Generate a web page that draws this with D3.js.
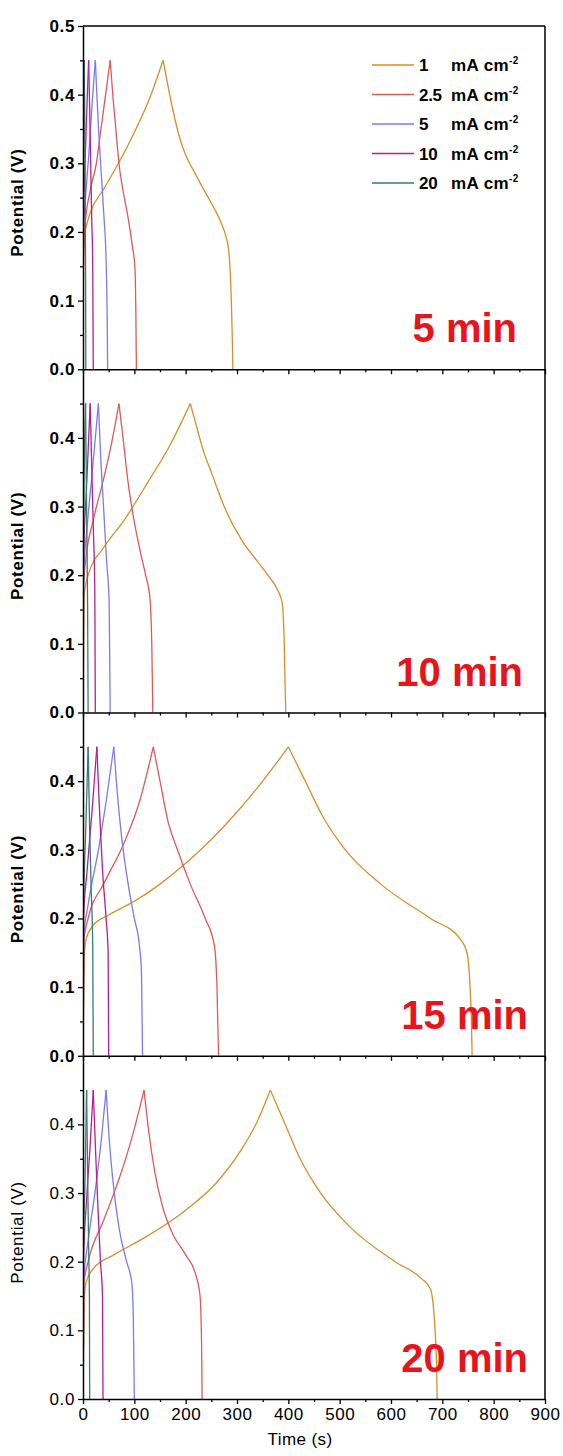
<!DOCTYPE html>
<html>
<head>
<meta charset="utf-8">
<script src="https://cdn.jsdelivr.net/npm/d3@7"></script>
<style>
  body { margin: 0; background: #fff; }
  svg { display: block; font-family: Arial, "Liberation Sans", sans-serif; }
</style>
</head>
<body>
<svg id="chart" width="563" height="1456"></svg>
<script>
// current densities (mA cm-2) and panel names
const densities = ["1", "2.5", "5", "10", "20"];
const panelLabels = ["5 min", "10 min", "15 min", "20 min"];
const xTickValues = [0, 100, 200, 300, 400, 500, 600, 700, 800, 900];
const yTickValues = [0.0, 0.1, 0.2, 0.3, 0.4, 0.5];

// [time (s), potential (V)] for each density, one array per panel
const gcd5min = [
  [[0,0],[1,0.15],[3,0.195],[8,0.213],[14,0.228],[40,0.262],[69,0.30],[100,0.345],[130,0.395],[156,0.45],[165,0.415],[175,0.378],[188,0.338],[200,0.312],[215,0.29],[235,0.262],[255,0.235],[270,0.212],[279,0.192],[284,0.172],[287,0.14],[289,0.10],[291,0.04],[292,0]],
  [[0,0],[1,0.17],[4,0.21],[14,0.26],[26,0.30],[35,0.35],[44,0.40],[53,0.45],[58,0.40],[64,0.35],[70,0.30],[78,0.26],[88,0.22],[96,0.18],[101,0.15],[103,0.08],[104,0]],
  [[0,0],[1,0.2],[5,0.25],[12,0.32],[18,0.39],[24,0.45],[27,0.40],[31,0.34],[36,0.28],[41,0.22],[45,0.16],[47,0.08],[48,0]],
  [[0,0],[1,0.22],[4,0.30],[8,0.39],[11,0.45],[13,0.38],[15,0.30],[17,0.22],[19,0.15],[20,0]],
  [[0,0],[0.5,0.25],[2.5,0.45],[4,0.30],[5,0.15],[5.5,0]]
];
const gcd10min = [
  [[0,0],[2,0.17],[10,0.20],[40,0.24],[80,0.28],[130,0.34],[170,0.39],[209,0.45],[220,0.42],[235,0.38],[250,0.35],[275,0.30],[310,0.25],[340,0.22],[360,0.20],[378,0.18],[388,0.16],[392,0.10],[394,0.03],[395,0]],
  [[0,0],[1,0.18],[5,0.22],[20,0.28],[40,0.34],[55,0.39],[70,0.45],[78,0.40],[87,0.34],[97,0.29],[110,0.24],[122,0.20],[130,0.17],[134,0.10],[136,0]],
  [[0,0],[1,0.2],[8,0.27],[18,0.35],[30,0.45],[34,0.38],[40,0.30],[46,0.22],[51,0.16],[53,0]],
  [[0,0],[1,0.22],[7,0.33],[14,0.45],[17,0.36],[20,0.27],[23,0.18],[24,0]],
  [[0,0],[1,0.25],[5,0.45],[7,0.30],[9,0.15],[10,0]]
];
const gcd15min = [
  [[0,0],[2,0.14],[6,0.17],[20,0.19],[50,0.205],[100,0.225],[150,0.25],[195,0.277],[250,0.315],[300,0.355],[350,0.40],[400,0.45],[433,0.40],[466,0.35],[511,0.30],[580,0.25],[677,0.20],[735,0.17],[748,0.15],[754,0.10],[757,0.04],[758,0]],
  [[0,0],[2,0.17],[10,0.20],[40,0.25],[80,0.31],[110,0.37],[137,0.45],[150,0.40],[166,0.34],[184,0.30],[209,0.25],[238,0.20],[256,0.16],[261,0.10],[264,0]],
  [[0,0],[1,0.17],[10,0.22],[30,0.30],[45,0.37],[60,0.45],[66,0.39],[75,0.32],[88,0.25],[100,0.20],[110,0.16],[114,0.12],[116,0]],
  [[0,0],[1,0.2],[8,0.27],[18,0.36],[27,0.45],[32,0.36],[38,0.27],[45,0.20],[49,0.15],[50,0]],
  [[0,0],[0.5,0.2],[5,0.32],[10,0.45],[13,0.33],[16,0.24],[19,0.16],[20,0]]
];
const gcd20min = [
  [[0,0],[2,0.14],[6,0.17],[20,0.19],[60,0.21],[120,0.235],[200,0.275],[260,0.315],[310,0.365],[340,0.405],[365,0.45],[394,0.40],[423,0.35],[463,0.30],[521,0.25],[608,0.20],[660,0.175],[677,0.16],[685,0.11],[689,0.04],[690,0]],
  [[0,0],[2,0.17],[10,0.20],[40,0.26],[70,0.32],[95,0.38],[119,0.45],[128,0.39],[140,0.33],[155,0.28],[175,0.24],[200,0.21],[220,0.18],[228,0.15],[231,0.08],[232,0]],
  [[0,0],[1,0.17],[10,0.23],[25,0.31],[36,0.38],[45,0.45],[50,0.39],[58,0.32],[70,0.25],[85,0.20],[95,0.17],[98,0.12],[100,0]],
  [[0,0],[1,0.2],[7,0.29],[14,0.37],[20,0.45],[24,0.37],[29,0.28],[34,0.20],[38,0.15],[39,0]],
  [[0,0],[0.5,0.2],[4,0.32],[7,0.45],[9,0.33],[11,0.22],[12.5,0.15],[13,0]]
];
const panels = [gcd5min, gcd10min, gcd15min, gcd20min];

const colors = ["#d4902a", "#dd5a5a", "#7b7bea", "#b3208f", "#3b7a70"];

const mLeft = 83, mRight = 545, mTop = 26, mBottom = 1399;
const ph = (mBottom - mTop) / panels.length;

const svg = d3.select("#chart");

const x = d3.scaleLinear().domain([0, 900]).range([mLeft, mRight]);
const y = d3.scaleLinear().domain([0, 0.5]).range([ph, 0]);

const line = d3.line()
  .x(d => x(d[0]))
  .y(d => y(d[1]))
  .curve(d3.curveMonotoneX);

svg.append("defs").append("clipPath").attr("id", "clip")
  .append("rect").attr("x", mLeft).attr("y", 0).attr("width", mRight - mLeft).attr("height", ph);

panels.forEach((series, i) => {
  const last = i === panels.length - 1;
  const weight = last ? "normal" : "bold";
  const g = svg.append("g").attr("transform", `translate(0,${mTop + i * ph})`);

  // curves: charge and discharge drawn separately so the peak stays sharp
  const plot = g.append("g").attr("clip-path", "url(#clip)");
  series.forEach((pts, k) => {
    const peak = d3.maxIndex(pts, d => d[1]);
    [pts.slice(0, peak + 1), pts.slice(peak)].forEach(part => {
      plot.append("path")
        .datum(part)
        .attr("fill", "none")
        .attr("stroke", colors[k])
        .attr("stroke-width", 1.3)
        .attr("stroke-linejoin", "miter")
        .attr("d", line);
    });
  });

  // y axis, minor then major
  g.append("g")
    .attr("transform", `translate(${mLeft},0)`)
    .call(d3.axisLeft(y).tickValues([0.05, 0.15, 0.25, 0.35, 0.45]).tickSize(3).tickFormat("").tickSizeOuter(0))
    .call(a => a.select(".domain").remove());
  const ya = g.append("g")
    .attr("transform", `translate(${mLeft},0)`)
    .call(d3.axisLeft(y)
      .tickValues(i === 0 ? yTickValues : yTickValues.slice(0, 5))
      .tickSize(5).tickSizeOuter(0).tickPadding(3)
      .tickFormat(d3.format(".1f")));
  ya.selectAll("text")
    .attr("font-size", 17).attr("font-weight", weight)
    .attr("letter-spacing", 0.6).attr("fill", "#000");

  // x axis
  g.append("g")
    .attr("transform", `translate(0,${ph})`)
    .call(d3.axisBottom(x).tickValues(d3.range(50, 900, 100)).tickSize(3).tickFormat("").tickSizeOuter(0))
    .call(a => a.select(".domain").remove());
  const xa = g.append("g")
    .attr("transform", `translate(0,${ph})`)
    .call(d3.axisBottom(x).tickValues(xTickValues).tickSize(5).tickSizeOuter(0).tickPadding(4));
  if (last) {
    xa.selectAll("text").attr("font-size", 17).attr("letter-spacing", 0.5).attr("fill", "#000");
  } else {
    xa.selectAll("text").remove();
  }

  g.selectAll(".domain").attr("stroke-width", 1.5);
  g.selectAll(".tick line").attr("stroke-width", 1.3);

  // right frame
  g.append("line")
    .attr("x1", mRight).attr("x2", mRight).attr("y1", 0).attr("y2", ph)
    .attr("stroke", "#000").attr("stroke-width", 1.5);

  // y title
  g.append("text")
    .attr("transform", `translate(23,${ph / 2 + 5}) rotate(-90)`)
    .attr("text-anchor", "middle")
    .attr("font-size", 17)
    .attr("letter-spacing", 0.7)
    .attr("font-weight", weight)
    .text("Potential (V)");

  // panel label
  g.append("text")
    .attr("x", i === 0 ? 517 : (i === 1 ? 523 : 528))
    .attr("y", ph - 27)
    .attr("text-anchor", "end")
    .attr("font-size", 40)
    .attr("font-weight", "bold")
    .attr("fill", "#e8141b")
    .text(panelLabels[i]);
});

// top frame
svg.append("line")
  .attr("x1", mLeft).attr("x2", mRight).attr("y1", mTop).attr("y2", mTop)
  .attr("stroke", "#000").attr("stroke-width", 1.5);

// x title
svg.append("text")
  .attr("x", (mLeft + mRight) / 2 - 14)
  .attr("y", 1445)
  .attr("text-anchor", "middle")
  .attr("font-size", 17)
  .attr("letter-spacing", 0.4)
  .text("Time (s)");

// legend
const legend = svg.append("g").attr("transform", "translate(372,65)");
densities.forEach((d, k) => {
  const row = legend.append("g").attr("transform", `translate(0,${k * 29.5})`);
  row.append("line")
    .attr("x1", 0).attr("x2", 42)
    .attr("stroke", colors[k]).attr("stroke-width", 1.5);
  row.append("text")
    .attr("x", 47).attr("y", 6)
    .attr("font-size", 17).attr("font-weight", "bold")
    .attr("letter-spacing", -0.3)
    .text(d);
  const t = row.append("text")
    .attr("x", 79).attr("y", 6)
    .attr("font-size", 17).attr("font-weight", "bold")
    .attr("letter-spacing", 0.4);
  t.append("tspan").text("mA cm");
  t.append("tspan").attr("dy", -7).attr("font-size", 10).text("-2");
});
</script>
</body>
</html>
